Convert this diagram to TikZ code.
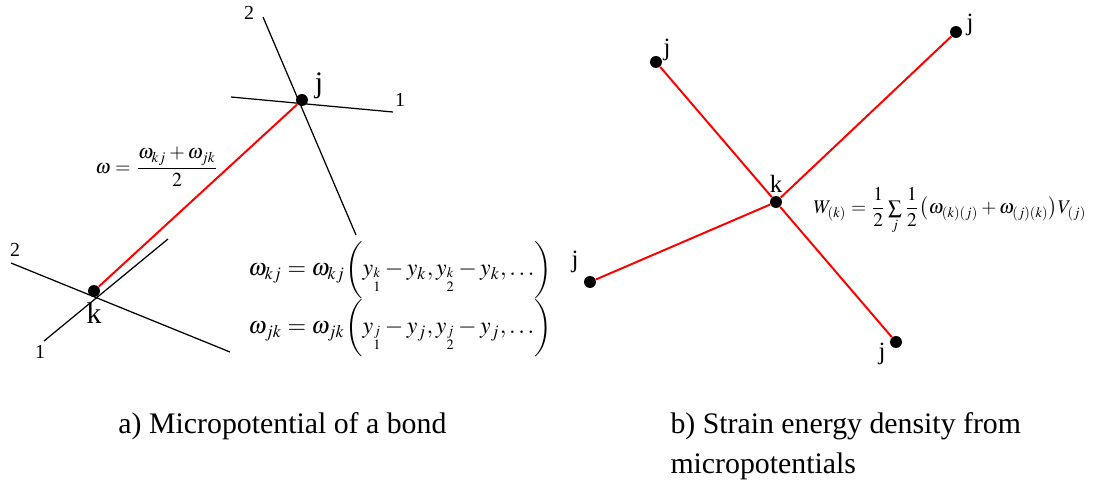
\documentclass[tikz,border=0pt]{standalone}
\usepackage{amsmath}
\usepackage{mathptmx}
\usepackage{fontspec}
\setmainfont{Liberation Serif}
\usetikzlibrary{positioning}

% y with a stacked index (node, direction)
\newcommand{\ystk}[2]{y_{\substack{\scriptscriptstyle #1\\\scriptscriptstyle #2}}}

\begin{document}
\begin{tikzpicture}[
    x=0.4024pt, y=-0.4024pt,
    dot/.style={circle, fill=black, inner sep=0pt, minimum size=4.8pt},
    lbl/.style={inner sep=0pt, font=\fontsize{12}{14}\selectfont},
    slbl/.style={inner sep=0pt, font=\fontsize{10}{12}\selectfont},
    axlbl/.style={inner sep=0pt, font=\fontsize{8}{10}\selectfont},
    axis/.style={line width=0.5pt},
    bond/.style={red, line width=0.8pt},
    eqn/.style={inner sep=0pt, anchor=west, font=\fontsize{9.6}{11.5}\selectfont},
    captext/.style={inner sep=0pt, align=left, font=\fontsize{12}{16}\selectfont},
]
    \useasboundingbox (0,0) rectangle (1098,486);

    %==================== a) single bond ====================
    \node[dot] (jL) at (302,100) {};
    \node[dot] (kL) at (94,291) {};

    % local axes at j
    \coordinate (ja) at (263,17);
    \coordinate (jb) at (356,235);
    \coordinate (jc) at (231,97);
    \coordinate (jd) at (393,112);
    \draw[axis] (ja) -- (jb);
    \draw[axis] (jc) -- (jd);
    \node[axlbl] (j2) at (249,13) {2};
    \node[axlbl] (j1) at (400,100) {1};

    % local axes at k
    \coordinate (ka) at (11,263);
    \coordinate (kb) at (230,352);
    \coordinate (kc) at (44,341);
    \coordinate (kd) at (168,239);
    \draw[axis] (ka) -- (kb);
    \draw[axis] (kc) -- (kd);
    \node[axlbl] (k2) at (15,250) {2};
    \node[axlbl] (k1) at (40,352) {1};

    \draw[bond] (kL) -- (jL);

    \node[lbl] (jLlab) at ([shift={(17,-14)}]jL) {j};
    \node[lbl, below=2pt of kL] (kLlab) {k};

    % micropotential of the bond
    \node[eqn, font=\fontsize{8}{10}\selectfont] (wbar) at (95,167)
        {$\omega=\dfrac{\omega_{kj}+\omega_{jk}}{2}$};
    \node[eqn] (wkj) at (248,270)
        {$\omega_{kj}=\omega_{kj}\biggl(\ystk{k}{1}-y_k,\ystk{k}{2}-y_k,\ldots\biggr)$};
    \node[eqn] (wjk) at (248,328)
        {$\omega_{jk}=\omega_{jk}\biggl(\ystk{j}{1}-y_j,\ystk{j}{2}-y_j,\ldots\biggr)$};

    %==================== b) family of k ====================
    \node[dot] (kR) at (776,202) {};
    \node[dot] (jR1) at (656,62) {};
    \node[dot] (jR2) at (956,32) {};
    \node[dot] (jR3) at (590,282) {};
    \node[dot] (jR4) at (896,342) {};

    \foreach \n in {jR1,jR2,jR3,jR4}
        \draw[bond] (kR) -- (\n);

    \node[slbl, above=1pt of kR] (kRlab) {k};
    \node[slbl] (jR1lab) at ([shift={(11,-12)}]jR1) {j};
    \node[slbl] (jR2lab) at ([shift={(14,-7)}]jR2) {j};
    \node[slbl] (jR3lab) at ([shift={(-15,-20)}]jR3) {j};
    \node[slbl] (jR4lab) at ([shift={(-14,12)}]jR4) {j};

    \node[eqn, font=\fontsize{7.8}{9.5}\selectfont] (wk) at (813,211)
        {$W_{(k)}=\dfrac{1}{2}\sum\limits_{j}\dfrac{1}{2}\bigl(\omega_{(k)(j)}+\omega_{(j)(k)}\bigr)V_{(j)}$};

    %==================== captions ====================
    \node[captext, anchor=north west] (capa) at (118,412) {a) Micropotential of a bond};
    \node[captext, anchor=north west] (capb) at (670,412)
        {b) Strain energy density from\\micropotentials};

\end{tikzpicture}
\end{document}
